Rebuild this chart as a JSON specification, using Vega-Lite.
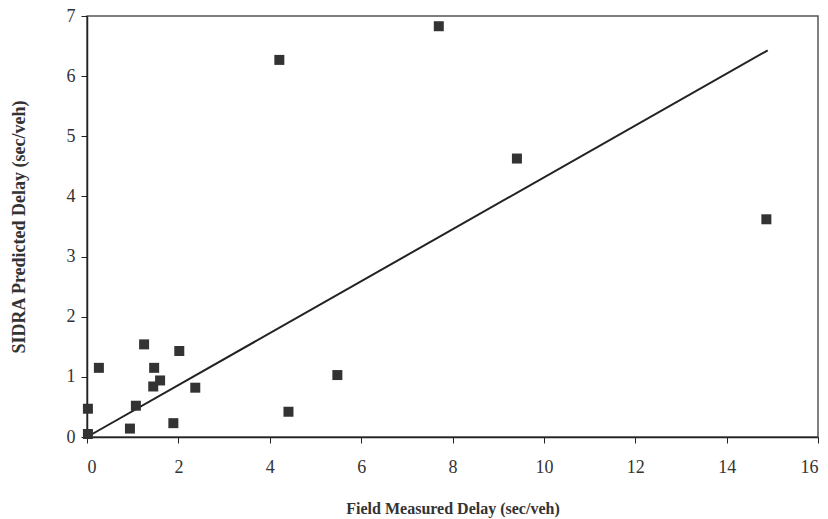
{
  "$schema": "https://vega.github.io/schema/vega-lite/v6.json",
  "width": 731,
  "height": 421,
  "autosize": {"type": "none"},
  "padding": {"left": 87, "top": 16, "right": 10, "bottom": 82},
  "background": "white",
  "config": {
    "view": {"stroke": "#555", "strokeWidth": 1.5},
    "font": "Liberation Serif",
    "axis": {
      "domainColor": "#222",
      "domainWidth": 1.5,
      "tickColor": "#222",
      "tickSize": 6,
      "grid": false,
      "labelFont": "Liberation Serif",
      "labelFontSize": 18,
      "labelColor": "#333",
      "titleFont": "Liberation Serif",
      "titleFontWeight": "bold",
      "titleColor": "#333"
    }
  },
  "datasets": {
    "pts": [
      {"field": 0.02, "sidra": 0.05},
      {"field": 0.02, "sidra": 0.47},
      {"field": 0.26, "sidra": 1.15},
      {"field": 0.94, "sidra": 0.14},
      {"field": 1.07, "sidra": 0.52},
      {"field": 1.25, "sidra": 1.54},
      {"field": 1.45, "sidra": 0.84},
      {"field": 1.47, "sidra": 1.15},
      {"field": 1.6, "sidra": 0.94},
      {"field": 1.89, "sidra": 0.23},
      {"field": 2.02, "sidra": 1.43},
      {"field": 2.37, "sidra": 0.82},
      {"field": 4.21, "sidra": 6.27},
      {"field": 4.41, "sidra": 0.42},
      {"field": 5.48, "sidra": 1.03},
      {"field": 7.7, "sidra": 6.83},
      {"field": 9.41, "sidra": 4.63},
      {"field": 14.87, "sidra": 3.62}
    ],
    "fit": [
      {"field": 0, "sidra": 0},
      {"field": 14.9, "sidra": 6.43}
    ]
  },
  "layer": [
    {
      "data": {"name": "fit"},
      "mark": {"type": "line", "color": "#222", "strokeWidth": 2},
      "encoding": {
        "x": {"field": "field", "type": "quantitative", "scale": {"domain": [0, 16], "nice": false},
          "axis": {"values": [0, 2, 4, 6, 8, 10, 12, 14, 16], "format": "d", "title": "Field Measured Delay (sec/veh)", "titleFontSize": 16, "labelPadding": 15, "titlePadding": 24}},
        "y": {"field": "sidra", "type": "quantitative", "scale": {"domain": [0, 7], "nice": false},
          "axis": {"values": [0, 1, 2, 3, 4, 5, 6, 7], "format": "d", "title": "SIDRA Predicted Delay (sec/veh)", "titleFontSize": 18, "labelPadding": 6, "titlePadding": 38}}
      }
    },
    {
      "data": {"name": "pts"},
      "mark": {"type": "point", "shape": "square", "filled": true, "size": 100, "color": "#333", "opacity": 1},
      "encoding": {
        "x": {"field": "field", "type": "quantitative"},
        "y": {"field": "sidra", "type": "quantitative"}
      }
    }
  ]
}
